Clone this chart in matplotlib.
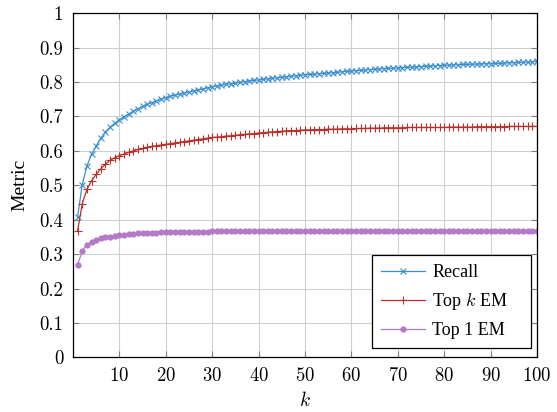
import numpy as np
import matplotlib
matplotlib.use("Agg")
import matplotlib.pyplot as plt

plt.rcParams["font.family"] = "serif"
plt.rcParams["font.serif"] = ["cmr10", "DejaVu Serif"]
plt.rcParams["mathtext.fontset"] = "cm"
plt.rcParams["axes.formatter.use_mathtext"] = True
plt.rcParams["axes.unicode_minus"] = False

k = list(range(1, 101))

recall = [
    0.408, 0.502, 0.556, 0.590, 0.614, 0.637, 0.655, 0.668, 0.680, 0.690,
    0.699, 0.707, 0.715, 0.722, 0.729, 0.735, 0.740, 0.745, 0.750, 0.755,
    0.759, 0.762, 0.765, 0.768, 0.771, 0.774, 0.777, 0.780, 0.783, 0.786,
    0.789, 0.791, 0.793, 0.795, 0.797, 0.799, 0.801, 0.803, 0.805, 0.806,
    0.808, 0.809, 0.811, 0.812, 0.814, 0.815, 0.817, 0.818, 0.820, 0.821,
    0.822, 0.823, 0.824, 0.825, 0.826, 0.827, 0.828, 0.830, 0.831, 0.832,
    0.833, 0.834, 0.835, 0.836, 0.837, 0.838, 0.839, 0.840, 0.840, 0.841,
    0.842, 0.843, 0.843, 0.844, 0.845, 0.846, 0.846, 0.847, 0.848, 0.849,
    0.849, 0.850, 0.850, 0.851, 0.851, 0.852, 0.852, 0.853, 0.853, 0.853,
    0.854, 0.854, 0.855, 0.856, 0.856, 0.857, 0.858, 0.858, 0.859, 0.860,
]

top_k_em = [
    0.368, 0.447, 0.488, 0.513, 0.532, 0.548, 0.561, 0.573, 0.580, 0.586,
    0.591, 0.596, 0.600, 0.604, 0.607, 0.610, 0.613, 0.615, 0.617, 0.619,
    0.621, 0.623, 0.625, 0.627, 0.629, 0.631, 0.633, 0.635, 0.637, 0.639,
    0.640, 0.641, 0.643, 0.644, 0.645, 0.647, 0.648, 0.649, 0.650, 0.652,
    0.653, 0.654, 0.655, 0.656, 0.657, 0.658, 0.659, 0.659, 0.660, 0.661,
    0.661, 0.662, 0.662, 0.662, 0.663, 0.663, 0.663, 0.664, 0.664, 0.664,
    0.665, 0.665, 0.665, 0.666, 0.666, 0.666, 0.667, 0.667, 0.667, 0.667,
    0.667, 0.668, 0.668, 0.668, 0.668, 0.668, 0.668, 0.668, 0.668, 0.668,
    0.669, 0.669, 0.669, 0.669, 0.669, 0.669, 0.670, 0.670, 0.670, 0.670,
    0.670, 0.670, 0.670, 0.671, 0.671, 0.671, 0.671, 0.671, 0.671, 0.671,
]

top_1_em = [
    0.269, 0.309, 0.328, 0.336, 0.342, 0.346, 0.349, 0.351, 0.354, 0.356,
    0.357, 0.358, 0.359, 0.360, 0.361, 0.361, 0.362, 0.362, 0.363, 0.363,
    0.363, 0.364, 0.364, 0.364, 0.365, 0.365, 0.365, 0.365, 0.365, 0.366,
    0.366, 0.366, 0.366, 0.367, 0.367, 0.367, 0.367, 0.367, 0.367, 0.367,
    0.367, 0.367, 0.367, 0.367, 0.367, 0.367, 0.367, 0.367, 0.367, 0.367,
    0.367, 0.367, 0.367, 0.367, 0.367, 0.367, 0.367, 0.367, 0.367, 0.367,
    0.367, 0.367, 0.367, 0.367, 0.366, 0.366, 0.366, 0.366, 0.366, 0.366,
    0.366, 0.366, 0.366, 0.366, 0.366, 0.366, 0.366, 0.366, 0.366, 0.366,
    0.366, 0.366, 0.366, 0.366, 0.366, 0.366, 0.366, 0.366, 0.366, 0.366,
    0.366, 0.366, 0.366, 0.366, 0.367, 0.367, 0.367, 0.367, 0.366, 0.366,
]

x_ticks = [10, 20, 30, 40, 50, 60, 70, 80, 90, 100]
y_ticks = [0, 0.1, 0.2, 0.3, 0.4, 0.5, 0.6, 0.7, 0.8, 0.9, 1]

fig = plt.figure(figsize=(5.57, 4.12), dpi=100)
ax = fig.add_axes([0.131, 0.1325, 0.833, 0.8355])

ax.plot(k, recall, color="#3a8fd0", lw=0.9, marker="x", ms=4, mew=0.8,
        label="Recall")
ax.plot(k, top_k_em, color="#b8302a", lw=0.9, marker="+", ms=6, mew=0.8,
        label="Top $k$ EM")
ax.plot(k, top_1_em, color="#b57ac7", lw=0.9, marker="o", ms=4.5, mew=0,
        label="Top 1 EM")

ax.set_xlim(0, 100)
ax.set_ylim(0, 1)
ax.set_xticks(x_ticks)
ax.set_yticks(y_ticks)
ax.set_yticklabels([f"{v:g}" for v in y_ticks])
ax.tick_params(direction="in", length=4, width=0.8, color="#7f7f7f",
               top=True, right=True, labelsize=13.5, pad=7)
ax.grid(True, color="#d0d0d0", lw=0.8)
ax.set_axisbelow(True)
for s in ax.spines.values():
    s.set_linewidth(0.9)

ax.set_xlabel("$k$", fontsize=14, labelpad=4)
ax.set_ylabel("Metric", fontsize=14, fontfamily="Liberation Serif",
              labelpad=8)

leg_x0, leg_x1 = 371.7 / 557, 531 / 557
leg_y0 = 1 - 348.3 / 412
leg = ax.legend(loc="lower left",
                bbox_to_anchor=(leg_x0, leg_y0, leg_x1 - leg_x0, 0.05),
                bbox_transform=fig.transFigure, borderaxespad=0, mode="expand",
                prop={"family": "Liberation Serif", "size": 13},
                fancybox=False, edgecolor="black", framealpha=1,
                handlelength=2.45, handletextpad=0.4, borderpad=0.5,
                labelspacing=0.55)
leg.get_frame().set_linewidth(0.9)

fig.savefig("out.png", dpi=100)
